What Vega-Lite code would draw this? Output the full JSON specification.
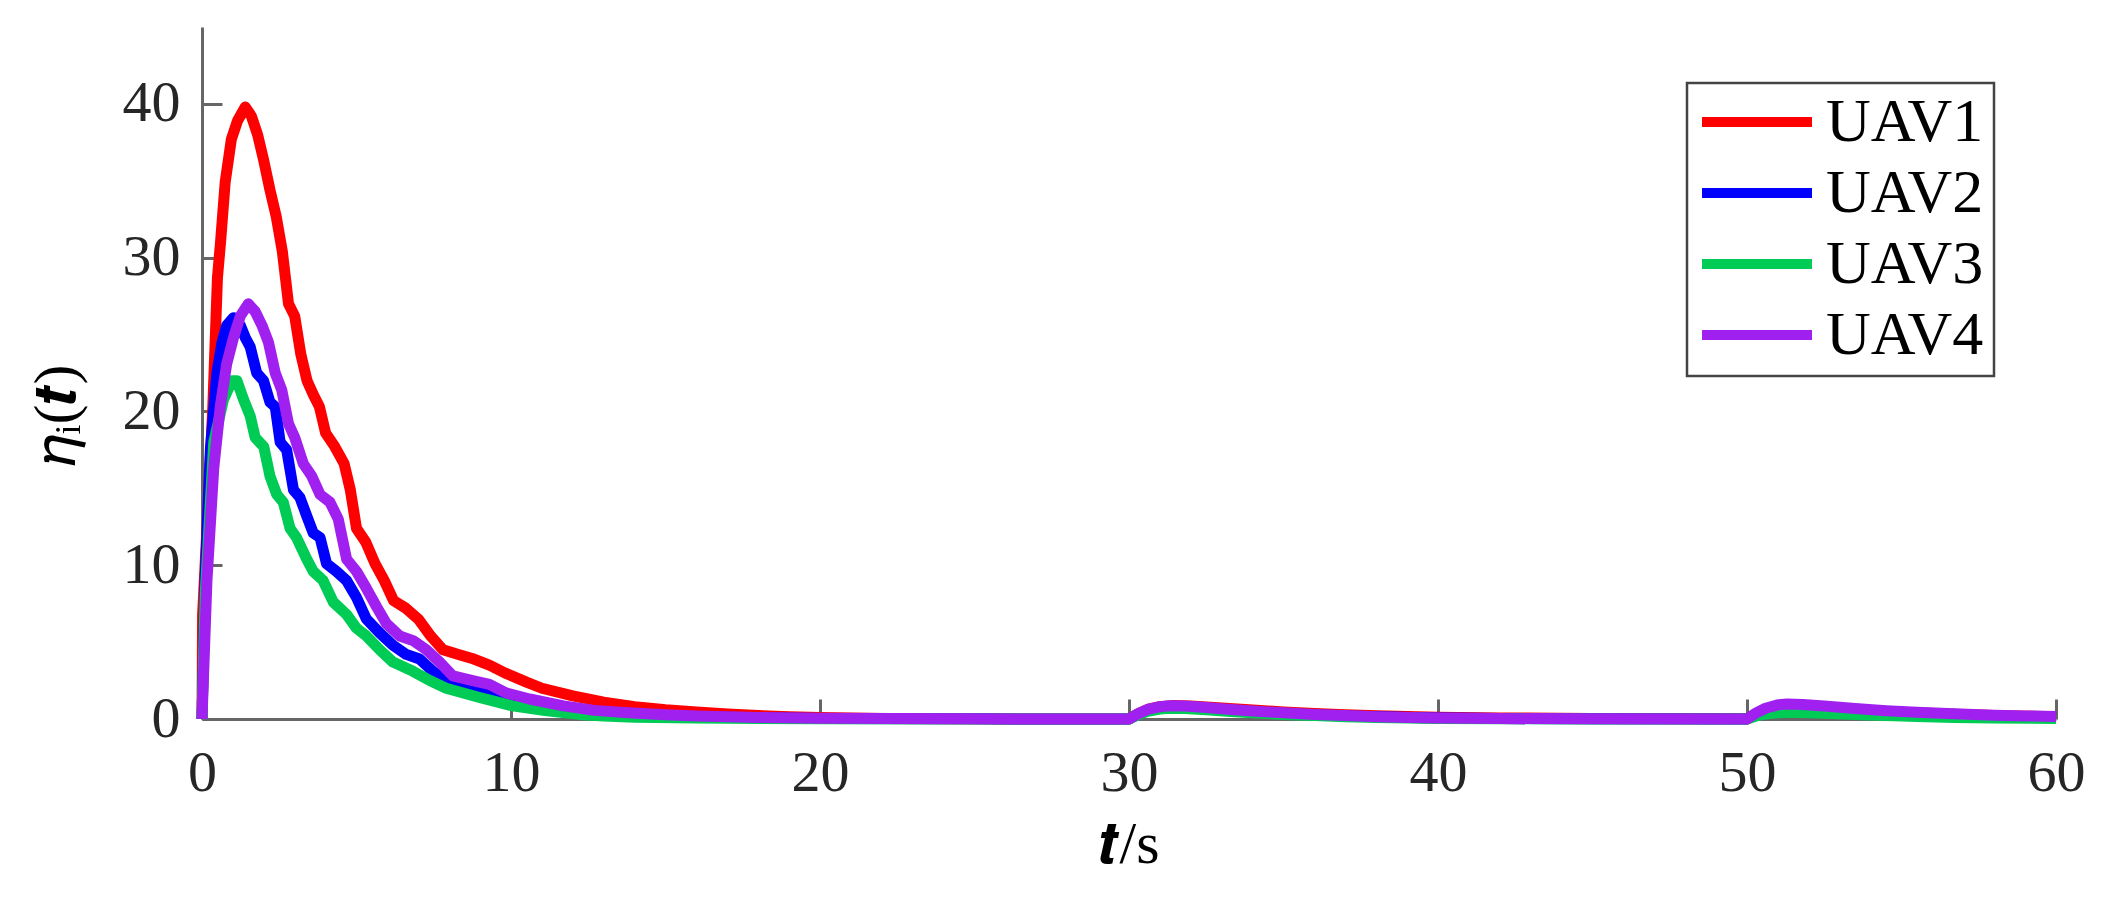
{
  "$schema": "https://vega.github.io/schema/vega-lite/v6.json",
  "width": 1854,
  "height": 692,
  "autosize": {"type": "none"},
  "padding": {"left": 202, "top": 27, "right": 66, "bottom": 195},
  "background": "white",
  "config": {
    "view": {"stroke": null},
    "font": "Liberation Serif"
  },
  "data": {"values": [
    {"s":"UAV1","t":0,"v":0},{"s":"UAV1","t":0.02,"v":6.8},{"s":"UAV1","t":0.2,"v":14},{"s":"UAV1","t":0.35,"v":20.3},{"s":"UAV1","t":0.5,"v":28.7},{"s":"UAV1","t":0.6,"v":31},{"s":"UAV1","t":0.75,"v":34.9},{"s":"UAV1","t":0.95,"v":37.7},{"s":"UAV1","t":1.15,"v":38.9},{"s":"UAV1","t":1.4,"v":39.8},{"s":"UAV1","t":1.6,"v":39.2},{"s":"UAV1","t":1.8,"v":38.0},{"s":"UAV1","t":2.0,"v":36.3},{"s":"UAV1","t":2.2,"v":34.4},{"s":"UAV1","t":2.4,"v":32.7},{"s":"UAV1","t":2.6,"v":30.4},{"s":"UAV1","t":2.8,"v":27.0},{"s":"UAV1","t":3.0,"v":26.2},{"s":"UAV1","t":3.2,"v":23.7},{"s":"UAV1","t":3.4,"v":22.0},{"s":"UAV1","t":3.6,"v":21.1},{"s":"UAV1","t":3.8,"v":20.3},{"s":"UAV1","t":4.0,"v":18.6},{"s":"UAV1","t":4.3,"v":17.7},{"s":"UAV1","t":4.6,"v":16.6},{"s":"UAV1","t":4.8,"v":14.9},{"s":"UAV1","t":5.0,"v":12.4},{"s":"UAV1","t":5.3,"v":11.5},{"s":"UAV1","t":5.6,"v":10.1},{"s":"UAV1","t":5.9,"v":9.0},{"s":"UAV1","t":6.2,"v":7.7},{"s":"UAV1","t":6.6,"v":7.2},{"s":"UAV1","t":7.0,"v":6.5},{"s":"UAV1","t":7.4,"v":5.4},{"s":"UAV1","t":7.8,"v":4.5},{"s":"UAV1","t":8.3,"v":4.2},{"s":"UAV1","t":8.8,"v":3.9},{"s":"UAV1","t":9.3,"v":3.5},{"s":"UAV1","t":9.8,"v":3.0},{"s":"UAV1","t":10.5,"v":2.4},{"s":"UAV1","t":11,"v":2.0},{"s":"UAV1","t":12,"v":1.5},{"s":"UAV1","t":13,"v":1.1},{"s":"UAV1","t":14,"v":0.8},{"s":"UAV1","t":15,"v":0.6},{"s":"UAV1","t":16,"v":0.45},{"s":"UAV1","t":17,"v":0.32},{"s":"UAV1","t":18,"v":0.22},{"s":"UAV1","t":19,"v":0.14},{"s":"UAV1","t":20,"v":0.09},{"s":"UAV1","t":22,"v":0.04},{"s":"UAV1","t":25,"v":0.01},{"s":"UAV1","t":29.9,"v":0},{"s":"UAV1","t":30,"v":0},{"s":"UAV1","t":30.3,"v":0.34},{"s":"UAV1","t":30.6,"v":0.62},{"s":"UAV1","t":31,"v":0.8},{"s":"UAV1","t":31.4,"v":0.87},{"s":"UAV1","t":32,"v":0.85},{"s":"UAV1","t":33,"v":0.72},{"s":"UAV1","t":34,"v":0.58},{"s":"UAV1","t":35,"v":0.46},{"s":"UAV1","t":36,"v":0.36},{"s":"UAV1","t":37,"v":0.28},{"s":"UAV1","t":38,"v":0.21},{"s":"UAV1","t":40,"v":0.12},{"s":"UAV1","t":42,"v":0.07},{"s":"UAV1","t":45,"v":0.03},{"s":"UAV1","t":49.9,"v":0.01},{"s":"UAV1","t":50,"v":0},{"s":"UAV1","t":50.3,"v":0.35},{"s":"UAV1","t":50.6,"v":0.62},{"s":"UAV1","t":51,"v":0.8},{"s":"UAV1","t":51.4,"v":0.85},{"s":"UAV1","t":52,"v":0.82},{"s":"UAV1","t":53,"v":0.68},{"s":"UAV1","t":54,"v":0.55},{"s":"UAV1","t":55,"v":0.44},{"s":"UAV1","t":56.5,"v":0.32},{"s":"UAV1","t":58,"v":0.23},{"s":"UAV1","t":60,"v":0.15},
    {"s":"UAV2","t":0,"v":0},{"s":"UAV2","t":0.1,"v":9},{"s":"UAV2","t":0.27,"v":17.5},{"s":"UAV2","t":0.48,"v":22.5},{"s":"UAV2","t":0.65,"v":24.5},{"s":"UAV2","t":0.8,"v":25.6},{"s":"UAV2","t":1.02,"v":26.1},{"s":"UAV2","t":1.24,"v":25.6},{"s":"UAV2","t":1.4,"v":24.8},{"s":"UAV2","t":1.56,"v":24.2},{"s":"UAV2","t":1.77,"v":22.5},{"s":"UAV2","t":1.99,"v":22.0},{"s":"UAV2","t":2.2,"v":20.6},{"s":"UAV2","t":2.37,"v":20.3},{"s":"UAV2","t":2.53,"v":18.0},{"s":"UAV2","t":2.74,"v":17.5},{"s":"UAV2","t":2.96,"v":14.9},{"s":"UAV2","t":3.17,"v":14.4},{"s":"UAV2","t":3.39,"v":13.2},{"s":"UAV2","t":3.6,"v":12.1},{"s":"UAV2","t":3.82,"v":11.8},{"s":"UAV2","t":4.03,"v":10.1},{"s":"UAV2","t":4.35,"v":9.6},{"s":"UAV2","t":4.68,"v":9.0},{"s":"UAV2","t":5.0,"v":7.9},{"s":"UAV2","t":5.32,"v":6.5},{"s":"UAV2","t":5.75,"v":5.6},{"s":"UAV2","t":6.18,"v":4.8},{"s":"UAV2","t":6.61,"v":4.2},{"s":"UAV2","t":7.04,"v":3.9},{"s":"UAV2","t":7.47,"v":3.1},{"s":"UAV2","t":7.9,"v":2.5},{"s":"UAV2","t":8.44,"v":2.25},{"s":"UAV2","t":8.98,"v":2.0},{"s":"UAV2","t":9.5,"v":1.55},{"s":"UAV2","t":10.05,"v":1.1},{"s":"UAV2","t":11.1,"v":0.7},{"s":"UAV2","t":12.2,"v":0.5},{"s":"UAV2","t":13.8,"v":0.3},{"s":"UAV2","t":15,"v":0.22},{"s":"UAV2","t":16,"v":0.15},{"s":"UAV2","t":18,"v":0.08},{"s":"UAV2","t":20,"v":0.04},{"s":"UAV2","t":25,"v":0.01},{"s":"UAV2","t":29.9,"v":0},{"s":"UAV2","t":30,"v":0},{"s":"UAV2","t":30.3,"v":0.32},{"s":"UAV2","t":30.6,"v":0.56},{"s":"UAV2","t":31,"v":0.73},{"s":"UAV2","t":31.3,"v":0.78},{"s":"UAV2","t":31.8,"v":0.76},{"s":"UAV2","t":32.5,"v":0.68},{"s":"UAV2","t":33.3,"v":0.56},{"s":"UAV2","t":34,"v":0.47},{"s":"UAV2","t":35,"v":0.36},{"s":"UAV2","t":36,"v":0.27},{"s":"UAV2","t":37,"v":0.2},{"s":"UAV2","t":38,"v":0.14},{"s":"UAV2","t":40,"v":0.06},{"s":"UAV2","t":42,"v":0.03},{"s":"UAV2","t":45,"v":0.01},{"s":"UAV2","t":49.9,"v":0},{"s":"UAV2","t":50,"v":0},{"s":"UAV2","t":50.3,"v":0.33},{"s":"UAV2","t":50.6,"v":0.58},{"s":"UAV2","t":51,"v":0.76},{"s":"UAV2","t":51.3,"v":0.8},{"s":"UAV2","t":51.8,"v":0.78},{"s":"UAV2","t":52.5,"v":0.7},{"s":"UAV2","t":53.5,"v":0.56},{"s":"UAV2","t":54.5,"v":0.44},{"s":"UAV2","t":55.5,"v":0.35},{"s":"UAV2","t":56.7,"v":0.26},{"s":"UAV2","t":58,"v":0.18},{"s":"UAV2","t":60,"v":0.1},
    {"s":"UAV3","t":0,"v":0},{"s":"UAV3","t":0.1,"v":8},{"s":"UAV3","t":0.38,"v":18},{"s":"UAV3","t":0.7,"v":20.8},{"s":"UAV3","t":0.97,"v":22.0},{"s":"UAV3","t":1.13,"v":22.0},{"s":"UAV3","t":1.34,"v":20.8},{"s":"UAV3","t":1.56,"v":19.7},{"s":"UAV3","t":1.72,"v":18.3},{"s":"UAV3","t":2.0,"v":17.7},{"s":"UAV3","t":2.2,"v":15.8},{"s":"UAV3","t":2.42,"v":14.6},{"s":"UAV3","t":2.63,"v":14.1},{"s":"UAV3","t":2.85,"v":12.4},{"s":"UAV3","t":3.06,"v":11.8},{"s":"UAV3","t":3.39,"v":10.4},{"s":"UAV3","t":3.6,"v":9.6},{"s":"UAV3","t":3.92,"v":9.0},{"s":"UAV3","t":4.25,"v":7.6},{"s":"UAV3","t":4.68,"v":6.8},{"s":"UAV3","t":5.0,"v":5.9},{"s":"UAV3","t":5.32,"v":5.4},{"s":"UAV3","t":5.75,"v":4.5},{"s":"UAV3","t":6.18,"v":3.7},{"s":"UAV3","t":6.83,"v":3.1},{"s":"UAV3","t":7.37,"v":2.5},{"s":"UAV3","t":7.9,"v":2.0},{"s":"UAV3","t":8.98,"v":1.4},{"s":"UAV3","t":10.05,"v":0.85},{"s":"UAV3","t":11.1,"v":0.55},{"s":"UAV3","t":12.2,"v":0.3},{"s":"UAV3","t":13,"v":0.2},{"s":"UAV3","t":14,"v":0.12},{"s":"UAV3","t":16,"v":0.06},{"s":"UAV3","t":18,"v":0.03},{"s":"UAV3","t":20,"v":0.01},{"s":"UAV3","t":29.9,"v":0},{"s":"UAV3","t":30,"v":0},{"s":"UAV3","t":30.3,"v":0.28},{"s":"UAV3","t":30.6,"v":0.5},{"s":"UAV3","t":31,"v":0.65},{"s":"UAV3","t":31.3,"v":0.7},{"s":"UAV3","t":31.8,"v":0.68},{"s":"UAV3","t":32.5,"v":0.6},{"s":"UAV3","t":33.3,"v":0.48},{"s":"UAV3","t":34,"v":0.4},{"s":"UAV3","t":35,"v":0.3},{"s":"UAV3","t":36,"v":0.22},{"s":"UAV3","t":37,"v":0.15},{"s":"UAV3","t":38,"v":0.1},{"s":"UAV3","t":40,"v":0.04},{"s":"UAV3","t":42,"v":0.02},{"s":"UAV3","t":45,"v":0},{"s":"UAV3","t":49.9,"v":0},{"s":"UAV3","t":50,"v":0},{"s":"UAV3","t":50.3,"v":0.2},{"s":"UAV3","t":50.6,"v":0.33},{"s":"UAV3","t":51,"v":0.41},{"s":"UAV3","t":51.3,"v":0.43},{"s":"UAV3","t":51.8,"v":0.42},{"s":"UAV3","t":52.5,"v":0.37},{"s":"UAV3","t":53.5,"v":0.29},{"s":"UAV3","t":54.5,"v":0.22},{"s":"UAV3","t":55.5,"v":0.16},{"s":"UAV3","t":56.7,"v":0.1},{"s":"UAV3","t":58,"v":0.06},{"s":"UAV3","t":60,"v":0.03},
    {"s":"UAV4","t":0,"v":0},{"s":"UAV4","t":0.16,"v":9.0},{"s":"UAV4","t":0.38,"v":16.3},{"s":"UAV4","t":0.59,"v":20.3},{"s":"UAV4","t":0.8,"v":23.1},{"s":"UAV4","t":1.02,"v":24.8},{"s":"UAV4","t":1.24,"v":26.2},{"s":"UAV4","t":1.5,"v":27.0},{"s":"UAV4","t":1.72,"v":26.5},{"s":"UAV4","t":1.94,"v":25.6},{"s":"UAV4","t":2.15,"v":24.5},{"s":"UAV4","t":2.37,"v":22.5},{"s":"UAV4","t":2.58,"v":21.4},{"s":"UAV4","t":2.8,"v":19.2},{"s":"UAV4","t":3.0,"v":18.3},{"s":"UAV4","t":3.28,"v":16.6},{"s":"UAV4","t":3.55,"v":15.8},{"s":"UAV4","t":3.82,"v":14.6},{"s":"UAV4","t":4.14,"v":14.1},{"s":"UAV4","t":4.41,"v":13.0},{"s":"UAV4","t":4.68,"v":10.4},{"s":"UAV4","t":5.0,"v":9.6},{"s":"UAV4","t":5.32,"v":8.5},{"s":"UAV4","t":5.65,"v":7.3},{"s":"UAV4","t":5.97,"v":6.2},{"s":"UAV4","t":6.4,"v":5.4},{"s":"UAV4","t":6.83,"v":5.1},{"s":"UAV4","t":7.26,"v":4.5},{"s":"UAV4","t":7.69,"v":3.7},{"s":"UAV4","t":8.12,"v":2.8},{"s":"UAV4","t":8.76,"v":2.5},{"s":"UAV4","t":9.3,"v":2.25},{"s":"UAV4","t":9.84,"v":1.7},{"s":"UAV4","t":10.6,"v":1.3},{"s":"UAV4","t":11.7,"v":0.85},{"s":"UAV4","t":12.7,"v":0.56},{"s":"UAV4","t":13.8,"v":0.4},{"s":"UAV4","t":15,"v":0.27},{"s":"UAV4","t":16,"v":0.2},{"s":"UAV4","t":18,"v":0.1},{"s":"UAV4","t":20,"v":0.05},{"s":"UAV4","t":25,"v":0.01},{"s":"UAV4","t":29.9,"v":0},{"s":"UAV4","t":30,"v":0},{"s":"UAV4","t":30.3,"v":0.35},{"s":"UAV4","t":30.6,"v":0.62},{"s":"UAV4","t":31,"v":0.8},{"s":"UAV4","t":31.3,"v":0.86},{"s":"UAV4","t":31.8,"v":0.84},{"s":"UAV4","t":32.5,"v":0.75},{"s":"UAV4","t":33.3,"v":0.62},{"s":"UAV4","t":34,"v":0.52},{"s":"UAV4","t":35,"v":0.4},{"s":"UAV4","t":36,"v":0.3},{"s":"UAV4","t":37,"v":0.22},{"s":"UAV4","t":38,"v":0.15},{"s":"UAV4","t":39,"v":0.1},{"s":"UAV4","t":40,"v":0.07},{"s":"UAV4","t":42,"v":0.03},{"s":"UAV4","t":45,"v":0.01},{"s":"UAV4","t":49.9,"v":0},{"s":"UAV4","t":50,"v":0},{"s":"UAV4","t":50.3,"v":0.4},{"s":"UAV4","t":50.6,"v":0.7},{"s":"UAV4","t":51,"v":0.92},{"s":"UAV4","t":51.3,"v":0.97},{"s":"UAV4","t":51.8,"v":0.95},{"s":"UAV4","t":52.5,"v":0.85},{"s":"UAV4","t":53.5,"v":0.68},{"s":"UAV4","t":54.5,"v":0.54},{"s":"UAV4","t":55.5,"v":0.44},{"s":"UAV4","t":56.7,"v":0.34},{"s":"UAV4","t":58,"v":0.25},{"s":"UAV4","t":59,"v":0.2},{"s":"UAV4","t":60,"v":0.17}
  ]},
  "mark": {"type": "line", "strokeWidth": 11, "strokeJoin": "round", "clip": false},
  "encoding": {
    "x": {
      "field": "t", "type": "quantitative",
      "scale": {"domain": [0, 60], "nice": false, "zero": false},
      "axis": {
        "values": [0, 10, 20, 30, 40, 50, 60],
        "title": "𝒕/s",
        "titleFont": "Liberation Serif",
        "titleFontSize": 60,
        "titleFontWeight": "normal",
        "titleColor": "#000000",
        "titleBaseline": "alphabetic",
        "titleY": 143,
        "titleX": 927,
        "titleAlign": "center",
        "labelFont": "Liberation Serif",
        "labelFontSize": 58,
        "labelColor": "#262626",
        "labelPadding": 45,
        "labelFlush": false,
        "labelOverlap": false,
        "grid": false,
        "tickSize": -20,
        "tickColor": "#666666",
        "tickWidth": 3,
        "domainColor": "#666666",
        "domainWidth": 3
      }
    },
    "y": {
      "field": "v", "type": "quantitative",
      "scale": {"domain": [0, 45], "nice": false},
      "axis": {
        "values": [0, 10, 20, 30, 40],
        "title": "𝜂ᵢ(𝒕)",
        "titleFont": "Liberation Serif",
        "titleFontSize": 60,
        "titleFontWeight": "normal",
        "titleColor": "#000000",
        "titleAngle": -90,
        "titleAlign": "center",
        "titleBaseline": "middle",
        "titleX": -146,
        "titleY": 388,
        "labelFont": "Liberation Serif",
        "labelFontSize": 58,
        "labelColor": "#262626",
        "labelPadding": 42,
        "grid": false,
        "tickSize": -20,
        "tickColor": "#666666",
        "tickWidth": 3,
        "domainColor": "#666666",
        "domainWidth": 3
      }
    },
    "color": {
      "field": "s", "type": "nominal",
      "scale": {"domain": ["UAV1", "UAV2", "UAV3", "UAV4"], "range": ["#FF0000", "#0000FF", "#00CC55", "#A020F0"]},
      "legend": {
        "title": null,
        "orient": "none",
        "legendX": 1485,
        "legendY": 56,
        "direction": "vertical",
        "symbolType": "stroke",
        "symbolSize": 12100,
        "symbolStrokeWidth": 10,
        "clipHeight": 58,
        "rowPadding": 9,
        "labelOffset": 9,
        "labelFont": "Liberation Serif",
        "labelFontSize": 62,
        "labelColor": "#000000",
        "padding": 10,
        "strokeColor": "#444444",
        "fillColor": "#FFFFFF",
        "encode": {"legend": {"update": {"strokeWidth": {"value": 2.5}}}}
      }
    }
  }
}
